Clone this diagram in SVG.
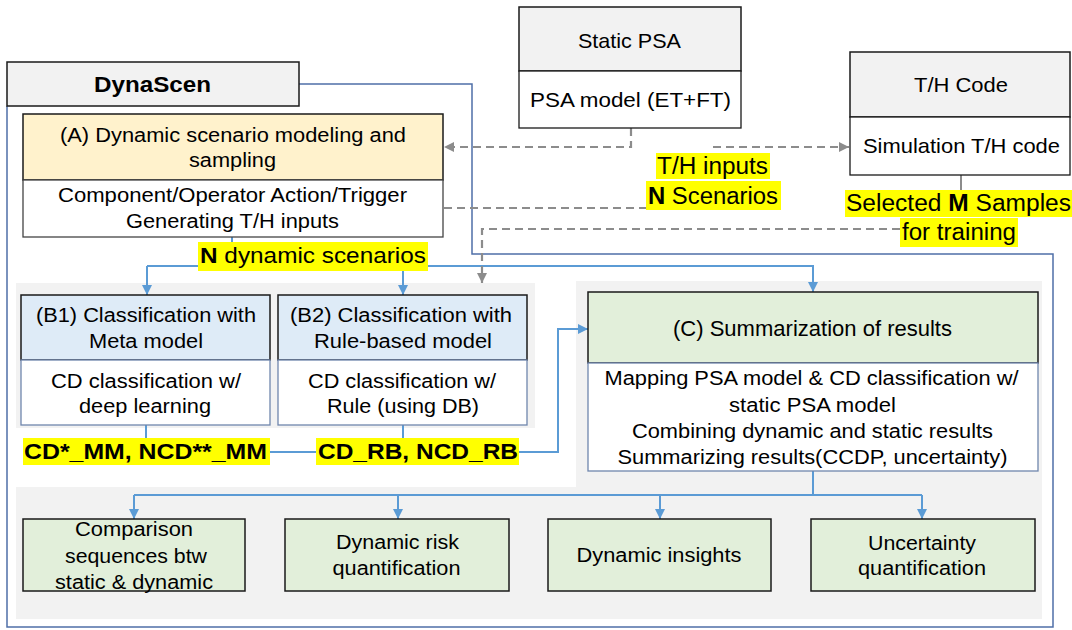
<svg xmlns="http://www.w3.org/2000/svg" width="1072" height="630" viewBox="0 0 1072 630">
<defs>
<style>
text{font-family:"Liberation Sans",Arial,sans-serif;fill:#000;text-anchor:middle}
.t20{font-size:20px}
.t21{font-size:21px}
.t23{font-size:23px}
.b{font-weight:bold}
.panel{fill:#f2f2f2}
.hd{stroke:#1a1a1a;stroke-width:1.5}
.bd{fill:#fff;stroke:#6f86ad;stroke-width:1.3}
.grey{fill:#f2f2f2}
.green{fill:#e2efda}
.blue{fill:#deebf7}
.yel{fill:#ffff00}
.frame{fill:none;stroke:#4f6fa8;stroke-width:1.5}
.con{fill:none;stroke:#5b9bd5;stroke-width:2}
.dash{fill:none;stroke:#8c8c8c;stroke-width:2.2;stroke-dasharray:8 5}
</style>
<marker id="ab" viewBox="0 0 10 10" refX="10" refY="5" markerWidth="10" markerHeight="10" markerUnits="userSpaceOnUse" orient="auto">
<path d="M0,0 L10,5 L0,10 z" fill="#5b9bd5"/>
</marker>
<marker id="ag" viewBox="0 0 10 10" refX="10" refY="5" markerWidth="10" markerHeight="10" markerUnits="userSpaceOnUse" orient="auto">
<path d="M0,0 L10,5 L0,10 z" fill="#8c8c8c"/>
</marker>
</defs>
<rect width="1072" height="630" fill="#fff"/>

<g id="panels">
<rect class="panel" x="16" y="283" width="519" height="145"/>
<rect class="panel" x="576" y="281" width="466" height="207"/>
<rect class="panel" x="16" y="487" width="1026" height="132"/>
</g>

<g id="frame">
<path class="frame" d="M299,84 H472 V254 H1053 V627 H7 V106"/>
</g>

<g id="connectors">
<path class="con" d="M232,237 V266"/>
<path class="con" d="M147,266 H813 V292" marker-end="url(#ab)"/>
<path class="con" d="M147,266 V295" marker-end="url(#ab)"/>
<path class="con" d="M403,266 V295" marker-end="url(#ab)"/>
<path class="con" d="M146,425 V452 H318"/>
<path class="con" d="M403,425 V452"/>
<path class="con" d="M518,452 H558 V329 H588" marker-end="url(#ab)"/>
<path class="con" d="M813,471 V495"/>
<path class="con" d="M134,495 H922"/>
<path class="con" d="M134,495 V519" marker-end="url(#ab)"/>
<path class="con" d="M398,495 V519" marker-end="url(#ab)"/>
<path class="con" d="M660,495 V519" marker-end="url(#ab)"/>
<path class="con" d="M922,495 V519" marker-end="url(#ab)"/>
<path class="dash" d="M631,128 V147 H444" marker-end="url(#ag)"/>
<path class="dash" d="M713,147 H849" marker-end="url(#ag)"/>
<path class="dash" d="M444,208 H647"/>
<path class="dash" d="M900,229 H482 V283" marker-end="url(#ag)"/>
<path d="M961,175 V192" stroke="#8c8c8c" stroke-width="2" fill="none"/>
</g>

<g id="dynascen">
<rect class="grey hd" x="7" y="62" width="292" height="44"/>
<text class="b" x="152.5" y="92" style="font-size:22px" textLength="117" lengthAdjust="spacingAndGlyphs">DynaScen</text>
</g>

<g id="nodeA">
<rect class="hd" x="23" y="114" width="420" height="66" fill="#fff2cc"/>
<rect x="23" y="180" width="420" height="57" fill="#fff" stroke="#444" stroke-width="1.3"/>
<text class="t20" x="233" y="142" textLength="346" lengthAdjust="spacingAndGlyphs">(A) Dynamic scenario modeling and</text>
<text class="t20" x="232.5" y="167" textLength="87" lengthAdjust="spacingAndGlyphs">sampling</text>
<text class="t20" x="232.5" y="202" textLength="349" lengthAdjust="spacingAndGlyphs">Component/Operator Action/Trigger</text>
<text class="t20" x="232.5" y="228" textLength="213" lengthAdjust="spacingAndGlyphs">Generating T/H inputs</text>
</g>

<g id="staticPSA">
<rect class="grey hd" x="519" y="7" width="222" height="64"/>
<rect x="519" y="71" width="222" height="57" fill="#fff" stroke="#1a1a1a" stroke-width="1.3"/>
<text class="t21" x="629.5" y="48" textLength="103" lengthAdjust="spacingAndGlyphs">Static PSA</text>
<text class="t21" x="630.5" y="107" textLength="201" lengthAdjust="spacingAndGlyphs">PSA model (ET+FT)</text>
</g>

<g id="thcode">
<rect class="grey hd" x="850" y="52" width="220" height="65"/>
<rect x="850" y="117" width="220" height="58" fill="#fff" stroke="#1a1a1a" stroke-width="1.3"/>
<text class="t21" x="961" y="92" textLength="94" lengthAdjust="spacingAndGlyphs">T/H Code</text>
<text class="t21" x="961.5" y="153" textLength="197" lengthAdjust="spacingAndGlyphs">Simulation T/H code</text>
</g>

<g id="nodeB1">
<rect class="blue hd" x="21" y="295" width="249" height="65"/>
<rect class="bd" x="21" y="360" width="249" height="65"/>
<text class="t20" x="146" y="322" textLength="220" lengthAdjust="spacingAndGlyphs">(B1) Classification with</text>
<text class="t20" x="146" y="348" textLength="114" lengthAdjust="spacingAndGlyphs">Meta model</text>
<text class="t20" x="146" y="388" textLength="190" lengthAdjust="spacingAndGlyphs">CD classification w/</text>
<text class="t20" x="145" y="413" textLength="132" lengthAdjust="spacingAndGlyphs">deep learning</text>
</g>

<g id="nodeB2">
<rect class="blue hd" x="278" y="295" width="249" height="65"/>
<rect class="bd" x="278" y="360" width="249" height="65"/>
<text class="t20" x="401" y="322" textLength="222" lengthAdjust="spacingAndGlyphs">(B2) Classification with</text>
<text class="t20" x="403" y="348" textLength="178" lengthAdjust="spacingAndGlyphs">Rule-based model</text>
<text class="t20" x="402" y="388" textLength="188" lengthAdjust="spacingAndGlyphs">CD classification w/</text>
<text class="t20" x="403" y="413" textLength="152" lengthAdjust="spacingAndGlyphs">Rule (using DB)</text>
</g>

<g id="nodeC">
<rect class="green hd" x="588" y="292" width="450" height="71"/>
<rect class="bd" x="588" y="363" width="450" height="108"/>
<text x="812.5" y="336" style="font-size:22px" textLength="279" lengthAdjust="spacingAndGlyphs">(C) Summarization of results</text>
<text class="t20" x="811.5" y="385" textLength="414" lengthAdjust="spacingAndGlyphs">Mapping PSA model &amp; CD classification w/</text>
<text class="t20" x="812.5" y="412" textLength="167" lengthAdjust="spacingAndGlyphs">static PSA model</text>
<text class="t20" x="812.5" y="438" textLength="361" lengthAdjust="spacingAndGlyphs">Combining dynamic and static results</text>
<text class="t20" x="812.5" y="464" textLength="390" lengthAdjust="spacingAndGlyphs">Summarizing results(CCDP, uncertainty)</text>
</g>

<g id="out1">
<rect class="green hd" x="23" y="519" width="222" height="72"/>
<text class="t20" x="134" y="536" textLength="118" lengthAdjust="spacingAndGlyphs">Comparison</text>
<text class="t20" x="136" y="563" textLength="142" lengthAdjust="spacingAndGlyphs">sequences btw</text>
<text class="t20" x="134" y="589" textLength="158" lengthAdjust="spacingAndGlyphs">static &amp; dynamic</text>
</g>

<g id="out2">
<rect class="green hd" x="285" y="519" width="224" height="72"/>
<text class="t20" x="397.5" y="549" textLength="123" lengthAdjust="spacingAndGlyphs">Dynamic risk</text>
<text class="t20" x="396.5" y="575" textLength="128" lengthAdjust="spacingAndGlyphs">quantification</text>
</g>

<g id="out3">
<rect class="green hd" x="548" y="519" width="223" height="72"/>
<text class="t20" x="659" y="562" textLength="165" lengthAdjust="spacingAndGlyphs">Dynamic insights</text>
</g>

<g id="out4">
<rect class="green hd" x="811" y="519" width="224" height="72"/>
<text class="t20" x="922" y="550" textLength="108" lengthAdjust="spacingAndGlyphs">Uncertainty</text>
<text class="t20" x="922" y="575" textLength="128" lengthAdjust="spacingAndGlyphs">quantification</text>
</g>

<g id="labels">
<rect class="yel" x="198" y="242" width="230" height="29"/>
<text style="font-size:22px" x="313" y="263" textLength="226" lengthAdjust="spacingAndGlyphs"><tspan class="b">N</tspan> dynamic  scenarios</text>
<rect class="yel" x="656" y="153" width="114" height="26"/>
<text class="t23" x="712.5" y="174" textLength="111" lengthAdjust="spacingAndGlyphs">T/H inputs</text>
<rect class="yel" x="646" y="181" width="135" height="29"/>
<text class="t23" x="713" y="204" textLength="130" lengthAdjust="spacingAndGlyphs"><tspan class="b">N</tspan> Scenarios</text>
<rect class="yel" x="845" y="190" width="227" height="27"/>
<text class="t23" x="958.5" y="211" textLength="225" lengthAdjust="spacingAndGlyphs">Selected <tspan class="b">M</tspan> Samples</text>
<rect class="yel" x="900" y="218" width="118" height="29"/>
<text class="t23" x="959" y="240" textLength="114" lengthAdjust="spacingAndGlyphs">for training</text>
<rect class="yel" x="23" y="438" width="247" height="27"/>
<text class="b" style="font-size:22px" x="145.5" y="459" textLength="243" lengthAdjust="spacingAndGlyphs">CD*_MM, NCD**_MM</text>
<rect class="yel" x="316" y="438" width="203" height="27"/>
<text class="b" style="font-size:22px" x="418" y="459" textLength="200" lengthAdjust="spacingAndGlyphs">CD_RB, NCD_RB</text>
</g>
</svg>
